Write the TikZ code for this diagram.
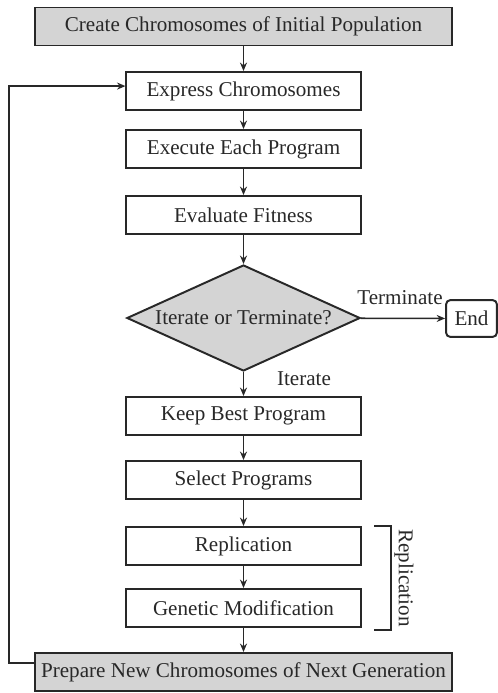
\documentclass[tikz,border=0pt]{standalone}
\usepackage{fontspec}
\setmainfont{Liberation Serif}
\usetikzlibrary{arrows.meta, shapes.geometric}
\definecolor{boxgray}{RGB}{212,212,212}
\definecolor{inkgray}{RGB}{40,40,40}

\begin{document}
\begin{tikzpicture}[>={Stealth[length=6pt, width=5pt]}, x=0.025cm, y=-0.025cm,
    every node/.style={font=\fontsize{15}{17}\selectfont, text=inkgray},
    stepbox/.style={draw=inkgray, line width=1.4pt, fill=white,
      minimum width=5.85cm, minimum height=0.95cm, inner sep=0pt},
    widebox/.style={stepbox, fill=boxgray, minimum width=10.42cm},
    flow/.style={->, draw=inkgray, line width=1.1pt}]
  \useasboundingbox (0,0) rectangle (498,693);

  % Start and final boxes
  \node[widebox] (init) at (243.5,26.5) {Create Chromosomes of Initial Population};
  \node[widebox] (prep) at (243.5,672) {Prepare New Chromosomes of Next Generation};

  % Main steps
  \node[stepbox] (expr) at (243.5,91) {Express Chromosomes};
  \node[stepbox] (exec) at (243.5,149) {Execute Each Program};
  \node[stepbox] (eval) at (243.5,215) {Evaluate Fitness};

  % Decision
  \node[diamond, aspect=2.2, draw=inkgray, line width=1.4pt, fill=boxgray, inner sep=0pt,
        minimum width=5.83cm, minimum height=2.65cm] (test) at (243.5,318)
        {Iterate or Terminate?};
  \node[draw=inkgray, line width=1.4pt, rounded corners=3pt, inner sep=0pt,
        minimum width=1.27cm, minimum height=0.92cm] (stop) at (471.5,318.5) {End};

  % Steps after iterate
  \node[stepbox] (best) at (243.5,416) {Keep Best Program};
  \node[stepbox] (sel)  at (243.5,480) {Select Programs};
  \node[stepbox] (repl) at (243.5,546) {Replication};
  \node[stepbox] (gmod) at (243.5,608) {Genetic Modification};

  % Connectors
  \draw[flow] (init) -- (expr);
  \draw[flow] (expr) -- (exec);
  \draw[flow] (exec) -- (eval);
  \draw[flow] (eval) -- (test);
  \draw[flow] (test) -- (stop);
  \draw[flow] (test) -- (best);
  \draw[flow] (best) -- (sel);
  \draw[flow] (sel) -- (repl);
  \draw[flow] (repl) -- (gmod);
  \draw[flow] (gmod) -- (prep);

  % Loop back
  \draw[flow] ([yshift=6.4pt]prep.west) -- ++(-25,0) |- ([yshift=3.5pt]expr.west);

  % Labels
  \node at (400,298) {Terminate};
  \node at (304,379) {Iterate};

  % Bracket
  \draw[inkgray, line width=1.1pt] (374,526) -- (391,526) -- (391,630) -- (374,630);
  \node[rotate=-90] at (404,578) {Replication};
\end{tikzpicture}
\end{document}
